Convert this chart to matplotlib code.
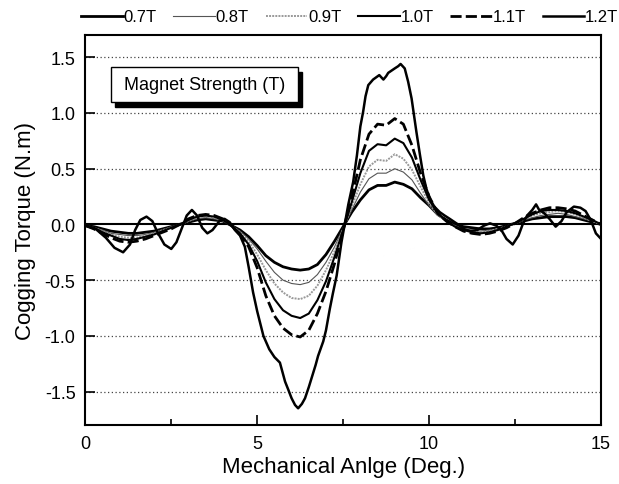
import matplotlib
matplotlib.use("Agg")
import matplotlib.pyplot as plt
from matplotlib.patches import Rectangle
from matplotlib.lines import Line2D

plt.rcParams['font.family'] = ['Liberation Sans', 'DejaVu Sans']

# ---------------- data ----------------
angle = [0.0, 0.25, 0.5, 0.75, 1.0, 1.25, 1.5, 1.75, 2.0, 2.25, 2.5, 2.75,
         3.0, 3.25, 3.5, 3.75, 4.0, 4.25, 4.5, 4.75, 5.0, 5.25, 5.5, 5.75,
         6.0, 6.25, 6.5, 6.75, 7.0, 7.25, 7.5, 7.75, 8.0, 8.25, 8.5, 8.75,
         9.0, 9.25, 9.5, 9.75, 10.0, 10.25, 10.5, 10.75, 11.0, 11.25, 11.5,
         11.75, 12.0, 12.25, 12.5, 12.75, 13.0, 13.25, 13.5, 13.75, 14.0,
         14.25, 14.5, 14.75, 15.0]

t07 = [-0.01, -0.02, -0.04, -0.06, -0.07, -0.08, -0.08, -0.07, -0.06, -0.04, -0.02, 0.00,
       0.02, 0.04, 0.05, 0.04, 0.03, -0.01, -0.05, -0.11, -0.19, -0.28, -0.34, -0.38,
       -0.40, -0.41, -0.40, -0.36, -0.27, -0.15, -0.02, 0.11, 0.22, 0.31, 0.35, 0.35,
       0.38, 0.36, 0.32, 0.24, 0.17, 0.09, 0.04, 0.00, -0.02, -0.03, -0.04,
       -0.04, -0.03, -0.01, 0.01, 0.03, 0.05, 0.06, 0.07, 0.07, 0.07,
       0.06, 0.04, 0.02, 0.00]

t08 = [-0.01, -0.03, -0.05, -0.08, -0.09, -0.10, -0.10, -0.09, -0.07, -0.05, -0.02, 0.00,
       0.03, 0.05, 0.06, 0.05, 0.03, -0.01, -0.06, -0.13, -0.22, -0.33, -0.43, -0.50,
       -0.53, -0.54, -0.52, -0.45, -0.34, -0.20, -0.03, 0.13, 0.29, 0.41, 0.46, 0.46,
       0.50, 0.47, 0.40, 0.28, 0.17, 0.08, 0.03, -0.01, -0.04, -0.05, -0.06,
       -0.05, -0.04, -0.02, 0.01, 0.04, 0.06, 0.08, 0.09, 0.10, 0.09,
       0.07, 0.05, 0.03, 0.00]

t09 = [-0.01, -0.03, -0.06, -0.09, -0.11, -0.12, -0.12, -0.10, -0.08, -0.05, -0.03, 0.00,
       0.03, 0.06, 0.07, 0.06, 0.04, -0.01, -0.07, -0.15, -0.27, -0.41, -0.53, -0.61,
       -0.66, -0.67, -0.64, -0.55, -0.41, -0.24, -0.04, 0.16, 0.36, 0.52, 0.58, 0.57,
       0.63, 0.59, 0.49, 0.34, 0.19, 0.09, 0.03, -0.02, -0.05, -0.06, -0.07,
       -0.06, -0.04, -0.02, 0.01, 0.04, 0.08, 0.10, 0.11, 0.12, 0.11,
       0.09, 0.06, 0.03, 0.00]

t10 = [-0.01, -0.03, -0.07, -0.10, -0.13, -0.14, -0.13, -0.11, -0.09, -0.06, -0.03, 0.00,
       0.04, 0.07, 0.08, 0.07, 0.04, -0.01, -0.08, -0.18, -0.33, -0.52, -0.67, -0.77,
       -0.82, -0.84, -0.80, -0.68, -0.51, -0.29, -0.05, 0.20, 0.46, 0.66, 0.72, 0.71,
       0.77, 0.73, 0.60, 0.40, 0.22, 0.10, 0.03, -0.02, -0.05, -0.07, -0.08,
       -0.07, -0.05, -0.02, 0.01, 0.05, 0.09, 0.12, 0.13, 0.13, 0.12,
       0.10, 0.07, 0.04, 0.00]

t11 = [-0.01, -0.04, -0.08, -0.12, -0.15, -0.16, -0.15, -0.13, -0.10, -0.07, -0.04, 0.00,
       0.05, 0.08, 0.09, 0.08, 0.05, -0.01, -0.09, -0.20, -0.39, -0.64, -0.82, -0.93,
       -0.99, -1.01, -0.95, -0.80, -0.60, -0.35, -0.05, 0.24, 0.58, 0.81, 0.90, 0.89,
       0.95, 0.90, 0.71, 0.46, 0.25, 0.10, 0.03, -0.02, -0.06, -0.08, -0.09,
       -0.08, -0.06, -0.03, 0.01, 0.06, 0.10, 0.13, 0.15, 0.15, 0.14,
       0.12, 0.08, 0.04, 0.00]

angle_12 = [0.0, 0.3, 0.6, 0.85, 1.1, 1.3, 1.45, 1.6, 1.78, 1.95, 2.1, 2.3, 2.5, 2.65,
            2.8, 2.95, 3.1, 3.25, 3.4, 3.55, 3.7, 3.9, 4.05, 4.2, 4.35, 4.5, 4.64,
            4.75, 4.88, 5.0, 5.18, 5.35, 5.5, 5.66, 5.81, 5.9, 6.0, 6.1, 6.19, 6.3,
            6.39, 6.5, 6.58, 6.7, 6.77, 6.92, 7.0, 7.11, 7.2, 7.31, 7.45, 7.55, 7.65,
            7.79, 7.9, 8.0, 8.08, 8.15, 8.23, 8.37, 8.55, 8.67, 8.75, 8.81, 9.0, 9.1,
            9.17, 9.29, 9.39, 9.49, 9.63, 9.73, 9.83, 9.92, 10.02, 10.15, 10.31,
            10.45, 10.6, 10.84, 11.0, 11.2, 11.4, 11.6, 11.77, 11.95, 12.1, 12.25,
            12.43, 12.6, 12.72, 12.85, 13.0, 13.11, 13.2, 13.35, 13.5, 13.68, 13.85,
            14.0, 14.21, 14.4, 14.55, 14.7, 14.85, 15.0]

t12 = [-0.01, -0.04, -0.12, -0.21, -0.25, -0.18, -0.05, 0.04, 0.07, 0.03, -0.07, -0.18,
       -0.22, -0.16, -0.04, 0.08, 0.13, 0.08, -0.03, -0.08, -0.05, 0.03, 0.05, 0.02,
       -0.05, -0.10, -0.20, -0.38, -0.61, -0.78, -1.00, -1.12, -1.19, -1.24, -1.41,
       -1.48, -1.56, -1.62, -1.65, -1.61, -1.56, -1.46, -1.38, -1.26, -1.18, -1.05,
       -0.95, -0.76, -0.62, -0.46, -0.16, 0.01, 0.18, 0.38, 0.62, 0.88, 1.01, 1.15,
       1.25, 1.30, 1.34, 1.30, 1.33, 1.36, 1.40, 1.42, 1.44, 1.40, 1.28, 1.13, 0.83,
       0.63, 0.44, 0.32, 0.23, 0.16, 0.11, 0.08, 0.05, 0.00, -0.04, -0.06, -0.05,
       -0.01, 0.01, -0.01, -0.05, -0.13, -0.18, -0.10, 0.00, 0.08, 0.13, 0.18, 0.13,
       0.10, 0.05, -0.02, 0.03, 0.11, 0.16, 0.15, 0.12, 0.04, -0.08, -0.13]

legend_labels = ['0.7T', '0.8T', '0.9T', '1.0T', '1.1T', '1.2T']
x_ticks = [0, 5, 10, 15]
x_minor = [2.5, 7.5, 12.5]
y_ticks = [-1.5, -1.0, -0.5, 0.0, 0.5, 1.0, 1.5]

# ---------------- figure ----------------
fig = plt.figure(figsize=(6.19, 4.85), dpi=100)
ax = fig.add_axes([0.1378, 0.1216, 0.8332, 0.8042])

for yv in y_ticks:
    if yv == 0:
        continue
    ax.axhline(yv, color='#444444', lw=0.9, ls=(0, (1, 2)), zorder=1)
ax.axhline(0, color='black', lw=1.5, zorder=2)

styles = [
    dict(color='black', lw=2.0, ls='-'),
    dict(color='#555555', lw=0.8, ls='-'),
    dict(color='#999999', lw=1.4, ls=(0, (1, 0.6))),
    dict(color='black', lw=1.5, ls='-'),
    dict(color='black', lw=2.0, ls=(0, (4, 1.5))),
    dict(color='black', lw=1.8, ls='-'),
]
series = [(angle, t07), (angle, t08), (angle, t09), (angle, t10), (angle, t11), (angle_12, t12)]
handles = []
for (xs, ys), st, lab in zip(series, styles, legend_labels):
    h, = ax.plot(xs, ys, zorder=3, label=lab, **st)
    handles.append(h)

ax.set_xlim(0, 15)
ax.set_ylim(-1.8, 1.7)
ax.set_xticks(x_ticks)
ax.set_xticks(x_minor, minor=True)
ax.set_yticks(y_ticks)
ax.set_yticklabels([f"{v:.1f}" for v in y_ticks])
ax.tick_params(axis='both', which='both', direction='in', labelsize=13, width=1.2)
ax.tick_params(axis='both', which='major', length=7, pad=7)
ax.tick_params(axis='x', which='minor', length=4)
for sp in ax.spines.values():
    sp.set_linewidth(1.5)

ax.set_xlabel('Mechanical Anlge (Deg.)', fontsize=16, labelpad=3)
ax.set_ylabel('Cogging Torque (N.m)', fontsize=16, labelpad=6)

# boxed annotation with shadow
ax.add_patch(Rectangle((0.058, 0.815), 0.362, 0.09, transform=ax.transAxes,
                       facecolor='black', edgecolor='black', zorder=5))
ax.add_patch(Rectangle((0.050, 0.828), 0.362, 0.09, transform=ax.transAxes,
                       facecolor='white', edgecolor='black', lw=1.0, zorder=6))
ax.text(0.231, 0.873, 'Magnet Strength (T)', transform=ax.transAxes,
        ha='center', va='center', fontsize=13, zorder=7)

fig.legend(handles=handles, labels=legend_labels, loc='center',
           bbox_to_anchor=(0.565, 0.963), ncol=6, frameon=False, fontsize=12,
           handlelength=2.5, handletextpad=0.05, columnspacing=1.0,
           borderaxespad=0)

fig.savefig('out.png', dpi=100)
